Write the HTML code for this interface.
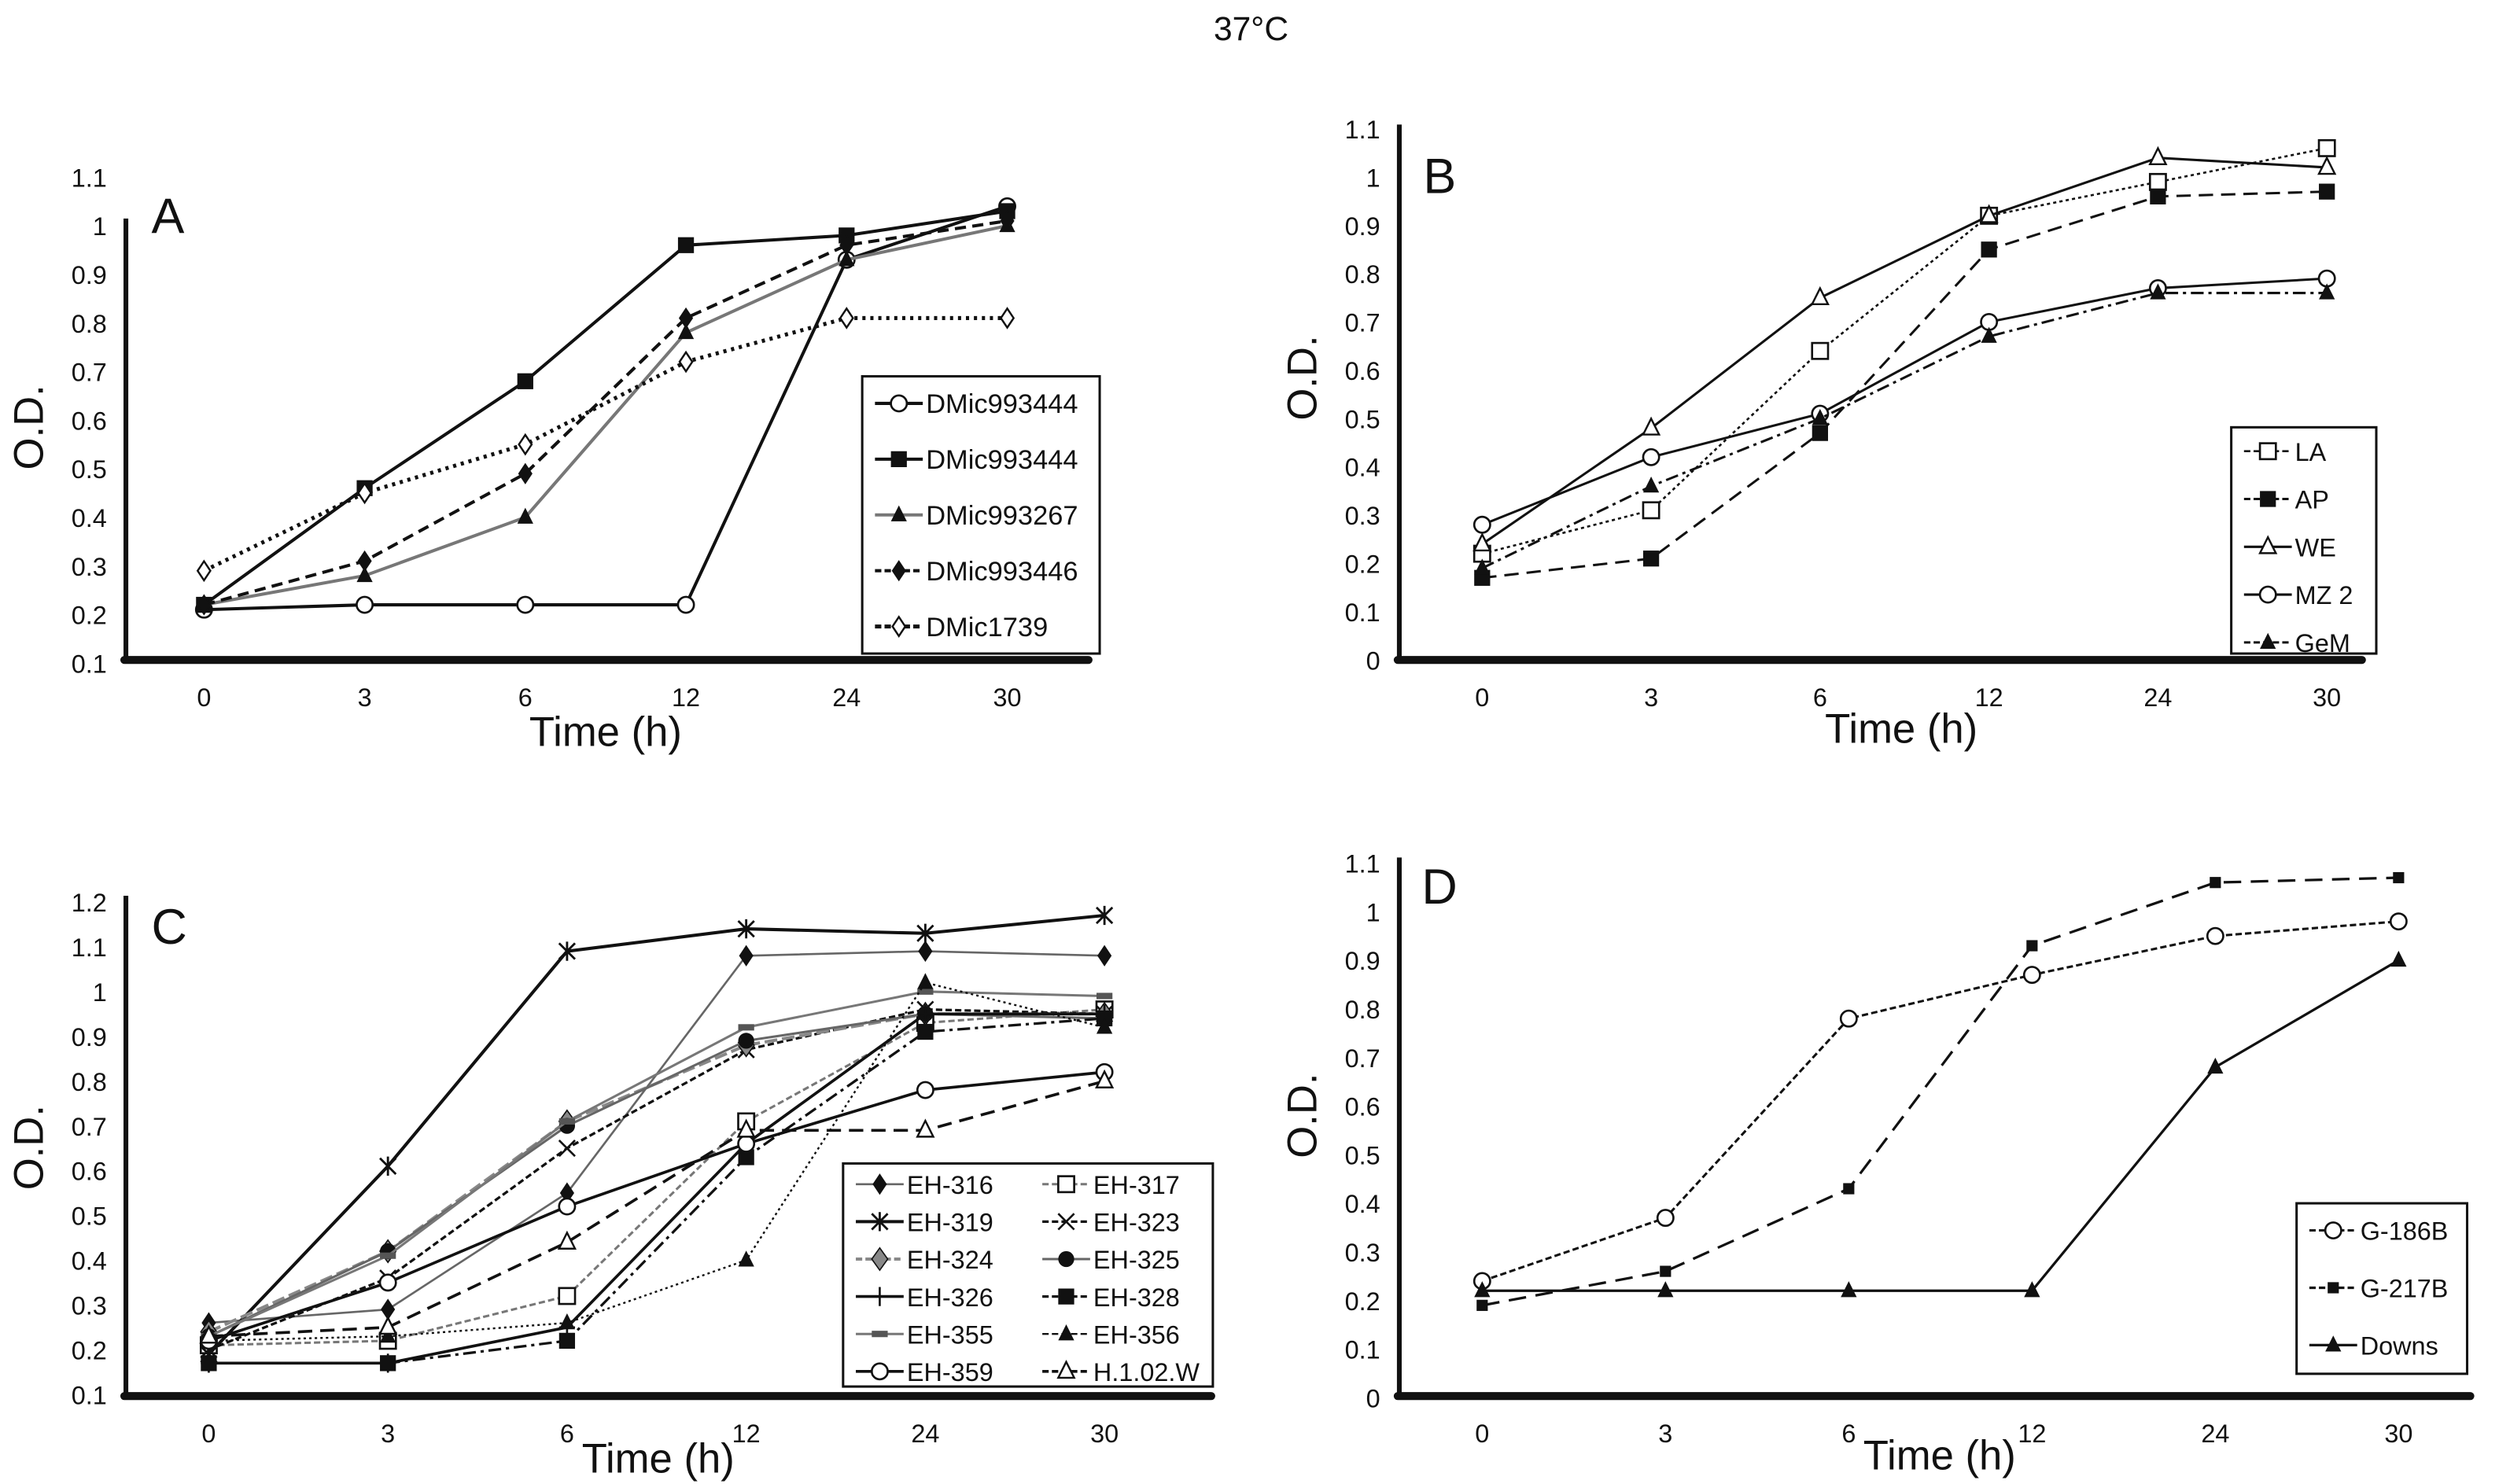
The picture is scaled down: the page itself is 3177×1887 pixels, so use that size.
<!DOCTYPE html>
<html><head><meta charset="utf-8"><style>
html,body{margin:0;padding:0;background:#fff}
svg{display:block}
text{font-family:"Liberation Sans",sans-serif;fill:#111}
</style></head><body>
<svg id="fig" width="3177" height="1887" viewBox="0 0 1568 931" xmlns="http://www.w3.org/2000/svg">
<text x="785" y="25" font-size="21" text-anchor="middle">37°C</text>
</svg>
<script>
const times = ["0","3","6","12","24","30"];
// Panel A
const aNames = ["DMic993444","DMic993444","DMic993267","DMic993446","DMic1739"];
const aS1 = [0.21,0.22,0.22,0.22,0.93,1.04];
const aS2 = [0.22,0.46,0.68,0.96,0.98,1.03];
const aS3 = [0.22,0.28,0.40,0.78,0.93,1.00];
const aS4 = [0.22,0.31,0.49,0.81,0.96,1.01];
const aS5 = [0.29,0.45,0.55,0.72,0.81,0.81];
const aTicks = ["0.1","0.2","0.3","0.4","0.5","0.6","0.7","0.8","0.9","1","1.1"];
// Panel B
const bNames = ["LA","AP","WE","MZ 2","GeM"];
const bS1 = [0.22,0.31,0.64,0.92,0.99,1.06];
const bS2 = [0.17,0.21,0.47,0.85,0.96,0.97];
const bS3 = [0.24,0.48,0.75,0.92,1.04,1.02];
const bS4 = [0.28,0.42,0.51,0.70,0.77,0.79];
const bS5 = [0.19,0.36,0.50,0.67,0.76,0.76];
const bTicks = ["0","0.1","0.2","0.3","0.4","0.5","0.6","0.7","0.8","0.9","1","1.1"];
// Panel C
const cNames = ["EH-316","EH-317","EH-319","EH-323","EH-324","EH-325","EH-326","EH-328","EH-355","EH-356","EH-359","H.1.02.W"];
const c316 = [0.26,0.29,0.55,1.08,1.09,1.08];
const c317 = [0.21,0.22,0.32,0.71,0.93,0.96];
const c319 = [0.19,0.61,1.09,1.14,1.13,1.17];
const c323 = [0.20,0.36,0.65,0.87,0.96,0.95];
const c324 = [0.24,0.42,0.71,0.88,0.95,0.95];
const c325 = [0.23,0.42,0.70,0.89,0.95,0.94];
const c326 = [0.17,0.17,0.25,0.66,0.95,0.95];
const c328 = [0.17,0.17,0.22,0.63,0.91,0.94];
const c355 = [0.23,0.41,0.71,0.92,1.00,0.99];
const c356 = [0.22,0.23,0.26,0.40,1.02,0.92];
const c359 = [0.22,0.35,0.52,0.66,0.78,0.82];
const cH102 = [0.23,0.25,0.44,0.69,0.69,0.80];
const cTicks = ["0.1","0.2","0.3","0.4","0.5","0.6","0.7","0.8","0.9","1","1.1","1.2"];
// Panel D
const dNames = ["G-186B","G-217B","Downs"];
const dS1 = [0.24,0.37,0.78,0.87,0.95,0.98];
const dS2 = [0.19,0.26,0.43,0.93,1.06,1.07];
const dS3 = [0.22,0.22,0.22,0.22,0.68,0.90];
const dTicks = ["0","0.1","0.2","0.3","0.4","0.5","0.6","0.7","0.8","0.9","1","1.1"];

const NS="http://www.w3.org/2000/svg";
const svg=document.getElementById('fig');
function mk(tag,attrs,parent,txt){const e=document.createElementNS(NS,tag);for(const k in attrs)e.setAttribute(k,attrs[k]);if(txt!==undefined)e.textContent=txt;(parent||svg).appendChild(e);return e;}

function marker(g,type,x,y,color,sz){
  const s=sz||5;let e;
  if(type==='oc'){e=mk('circle',{cx:x,cy:y,r:s,fill:'#fff',stroke:'#111','stroke-width':1.3},g);}
  else if(type==='fc'){e=mk('circle',{cx:x,cy:y,r:s,fill:'#111'},g);}
  else if(type==='os'){e=mk('rect',{x:x-s,y:y-s,width:2*s,height:2*s,fill:'#fff',stroke:'#111','stroke-width':1.3},g);}
  else if(type==='fs'){e=mk('rect',{x:x-s,y:y-s,width:2*s,height:2*s,fill:'#111'},g);}
  else if(type==='ft'){e=mk('polygon',{points:`${x},${y-s-1} ${x-s},${y+s-1} ${x+s},${y+s-1}`,fill:'#111'},g);}
  else if(type==='ot'){e=mk('polygon',{points:`${x},${y-s-1} ${x-s},${y+s-1} ${x+s},${y+s-1}`,fill:'#fff',stroke:'#111','stroke-width':1.2},g);}
  else if(type==='fd'){e=mk('polygon',{points:`${x},${y-s-1} ${x-s+1},${y} ${x},${y+s+1} ${x+s-1},${y}`,fill:color||'#111',stroke:'#111','stroke-width':0.8},g);}
  else if(type==='od'){e=mk('polygon',{points:`${x},${y-s-1} ${x-s+1},${y} ${x},${y+s+1} ${x+s-1},${y}`,fill:'#fff',stroke:'#111','stroke-width':1.2},g);}
  else if(type==='ast'){e=mk('path',{d:`M${x-s},${y-s}L${x+s},${y+s}M${x+s},${y-s}L${x-s},${y+s}M${x},${y-s-1}L${x},${y+s+1}`,stroke:'#111','stroke-width':1.4,fill:'none'},g);}
  else if(type==='x'){e=mk('path',{d:`M${x-s},${y-s}L${x+s},${y+s}M${x+s},${y-s}L${x-s},${y+s}`,stroke:'#111','stroke-width':1.3,fill:'none'},g);}
  else if(type==='plus'){e=mk('path',{d:`M${x-s},${y}L${x+s},${y}M${x},${y-s-1}L${x},${y+s+1}`,stroke:'#111','stroke-width':1.3,fill:'none'},g);}
  else if(type==='dash'){e=mk('rect',{x:x-s,y:y-2,width:2*s,height:4,fill:'#555'},g);}
  else if(type==='sq2'){e=mk('rect',{x:x-3.5,y:y-3.5,width:7,height:7,fill:'#111'},g);}
  
  
  return e;
}

function panel(cfg){
  const g=mk('g',{});
  
  
  const yv=v=>cfg.y0-(v-cfg.vmin)*cfg.ppu;
  const xv=i=>cfg.x0+i*cfg.dx;
  cfg.ticks.forEach(t=>{const e=mk('text',{x:cfg.ax-12,y:yv(parseFloat(t))+6,'font-size':16,'text-anchor':'end'},g,t);
    });
  times.forEach((t,i)=>{const e=mk('text',{x:xv(i),y:cfg.axY+29,'font-size':16,'text-anchor':'middle'},g,t);
    });
  cfg.series.forEach(s=>{
    const sg=mk('g',{},g);
    
    
    const pts=s.v.map((v,i)=>xv(i)+','+yv(v)).join(' ');
    const pl=mk('polyline',{points:pts,fill:'none',stroke:s.c||'#111','stroke-width':s.w||2,'stroke-dasharray':s.d||'none'},sg);
    
    s.v.forEach((v,i)=>marker(sg,s.m,xv(i),yv(v),s.mc,s.ms));
  });
  const ya=mk('line',{x1:cfg.ax,y1:cfg.axTop,x2:cfg.ax,y2:cfg.axY+2,stroke:'#111','stroke-width':3},g);
  
  const xa=mk('line',{x1:cfg.ax-1,y1:cfg.axY,x2:cfg.axR,y2:cfg.axY,stroke:'#111','stroke-width':5,'stroke-linecap':'round'},g);
  
  const lt=mk('text',{x:cfg.lx,y:cfg.ly,'font-size':31},g,cfg.id);
  
  const yt=mk('text',{x:0,y:0,'font-size':26,'text-anchor':'middle',transform:`translate(${cfg.ax-52},${cfg.ytY}) rotate(-90)`},g,'O.D.');
  
  const xt=mk('text',{x:cfg.xtX,y:cfg.axY+cfg.xtOff,'font-size':26,'text-anchor':'middle'},g,'Time (h)');
  
  const L=cfg.leg;
  const lg=mk('g',{},g);
  
  const box=mk('rect',{x:L.x,y:L.y,width:L.w,height:L.h,fill:'#fff',stroke:'#111','stroke-width':1.5},lg);
  
  cfg.series.forEach((s,k)=>{
    const col=L.cols>1?k%2:0,row=L.cols>1?Math.floor(k/2):k;
    const ex=L.x+8+col*(L.colW||0), ey=L.y+L.top+row*L.rowH;
    const eg=mk('g',{},lg);
    
    mk('line',{x1:ex,y1:ey,x2:ex+30,y2:ey,stroke:s.c||'#111','stroke-width':s.w||2,'stroke-dasharray':s.d?'4,2':'none'},eg);
    marker(eg,s.m,ex+15,ey,s.mc,s.ms);
    mk('text',{x:ex+32,y:ey+6,'font-size':L.fs},eg,s.name);
  });
}

panel({id:'A',ax:79,axTop:137,axY:414,axR:683,x0:128,dx:100.8,y0:416,vmin:0.1,ppu:305,ticks:aTicks,lx:95,ly:146,ytY:268,xtX:380,xtOff:54,
  leg:{x:541,y:236,w:149,h:174,cols:1,top:17,rowH:35,fs:17},
  series:[
   {name:aNames[0],v:aS1,m:'oc',w:2},
   {name:aNames[1],v:aS2,m:'fs',w:2},
   {name:aNames[2],v:aS3,m:'ft',w:2,c:'#777'},
   {name:aNames[3],v:aS4,m:'fd',w:2,d:'7,4'},
   {name:aNames[4],v:aS5,m:'od',w:2.5,d:'2,3'}]});

panel({id:'B',ax:878,axTop:78,axY:414,axR:1482,x0:930,dx:106,y0:414,vmin:0,ppu:303,ticks:bTicks,lx:893,ly:121,ytY:237,xtX:1193,xtOff:52,
  leg:{x:1400,y:268,w:91,h:142,cols:1,top:15,rowH:30,fs:16},
  series:[
   {name:bNames[0],v:bS1,m:'os',w:1.3,d:'2,2'},
   {name:bNames[1],v:bS2,m:'fs',w:1.5,d:'9,5'},
   {name:bNames[2],v:bS3,m:'ot',w:1.5},
   {name:bNames[3],v:bS4,m:'oc',w:1.5},
   {name:bNames[4],v:bS5,m:'ft',w:1.5,d:'8,3,2,3'}]});

panel({id:'C',ax:79,axTop:562,axY:876,axR:760,x0:131,dx:112.4,y0:875,vmin:0.1,ppu:281,ticks:cTicks,lx:95,ly:592,ytY:720,xtX:413,xtOff:48,
  leg:{x:529,y:730,w:232,h:140,cols:2,colW:117,top:13,rowH:23.5,fs:16},
  series:[
   {name:cNames[0],v:c316,m:'fd',w:1.3,c:'#666',ms:5},
   {name:cNames[1],v:c317,m:'os',w:1.5,c:'#777',d:'4,2'},
   {name:cNames[2],v:c319,m:'ast',w:2},
   {name:cNames[3],v:c323,m:'x',w:1.6,d:'4,2'},
   {name:cNames[4],v:c324,m:'fd',w:2,c:'#888',d:'8,3',mc:'#888',ms:6},
   {name:cNames[5],v:c325,m:'fc',w:1.5,c:'#666'},
   {name:cNames[6],v:c326,m:'plus',w:1.8},
   {name:cNames[7],v:c328,m:'fs',w:1.6,d:'8,3,2,3'},
   {name:cNames[8],v:c355,m:'dash',w:1.5,c:'#777'},
   {name:cNames[9],v:c356,m:'ft',w:1.2,d:'1.5,2'},
   {name:cNames[10],v:c359,m:'oc',w:1.8},
   {name:cNames[11],v:cH102,m:'ot',w:1.8,d:'9,5'}]});

panel({id:'D',ax:878,axTop:538,axY:876,axR:1550,x0:930,dx:115,y0:877,vmin:0,ppu:305,ticks:dTicks,lx:892,ly:567,ytY:700,xtX:1217,xtOff:46,
  leg:{x:1441,y:755,w:107,h:107,cols:1,top:17,rowH:36,fs:16},
  series:[
   {name:dNames[0],v:dS1,m:'oc',w:1.5,d:'4,2'},
   {name:dNames[1],v:dS2,m:'sq2',w:1.6,d:'11,6'},
   {name:dNames[2],v:dS3,m:'ft',w:1.6}]});
</script>
</body></html>
